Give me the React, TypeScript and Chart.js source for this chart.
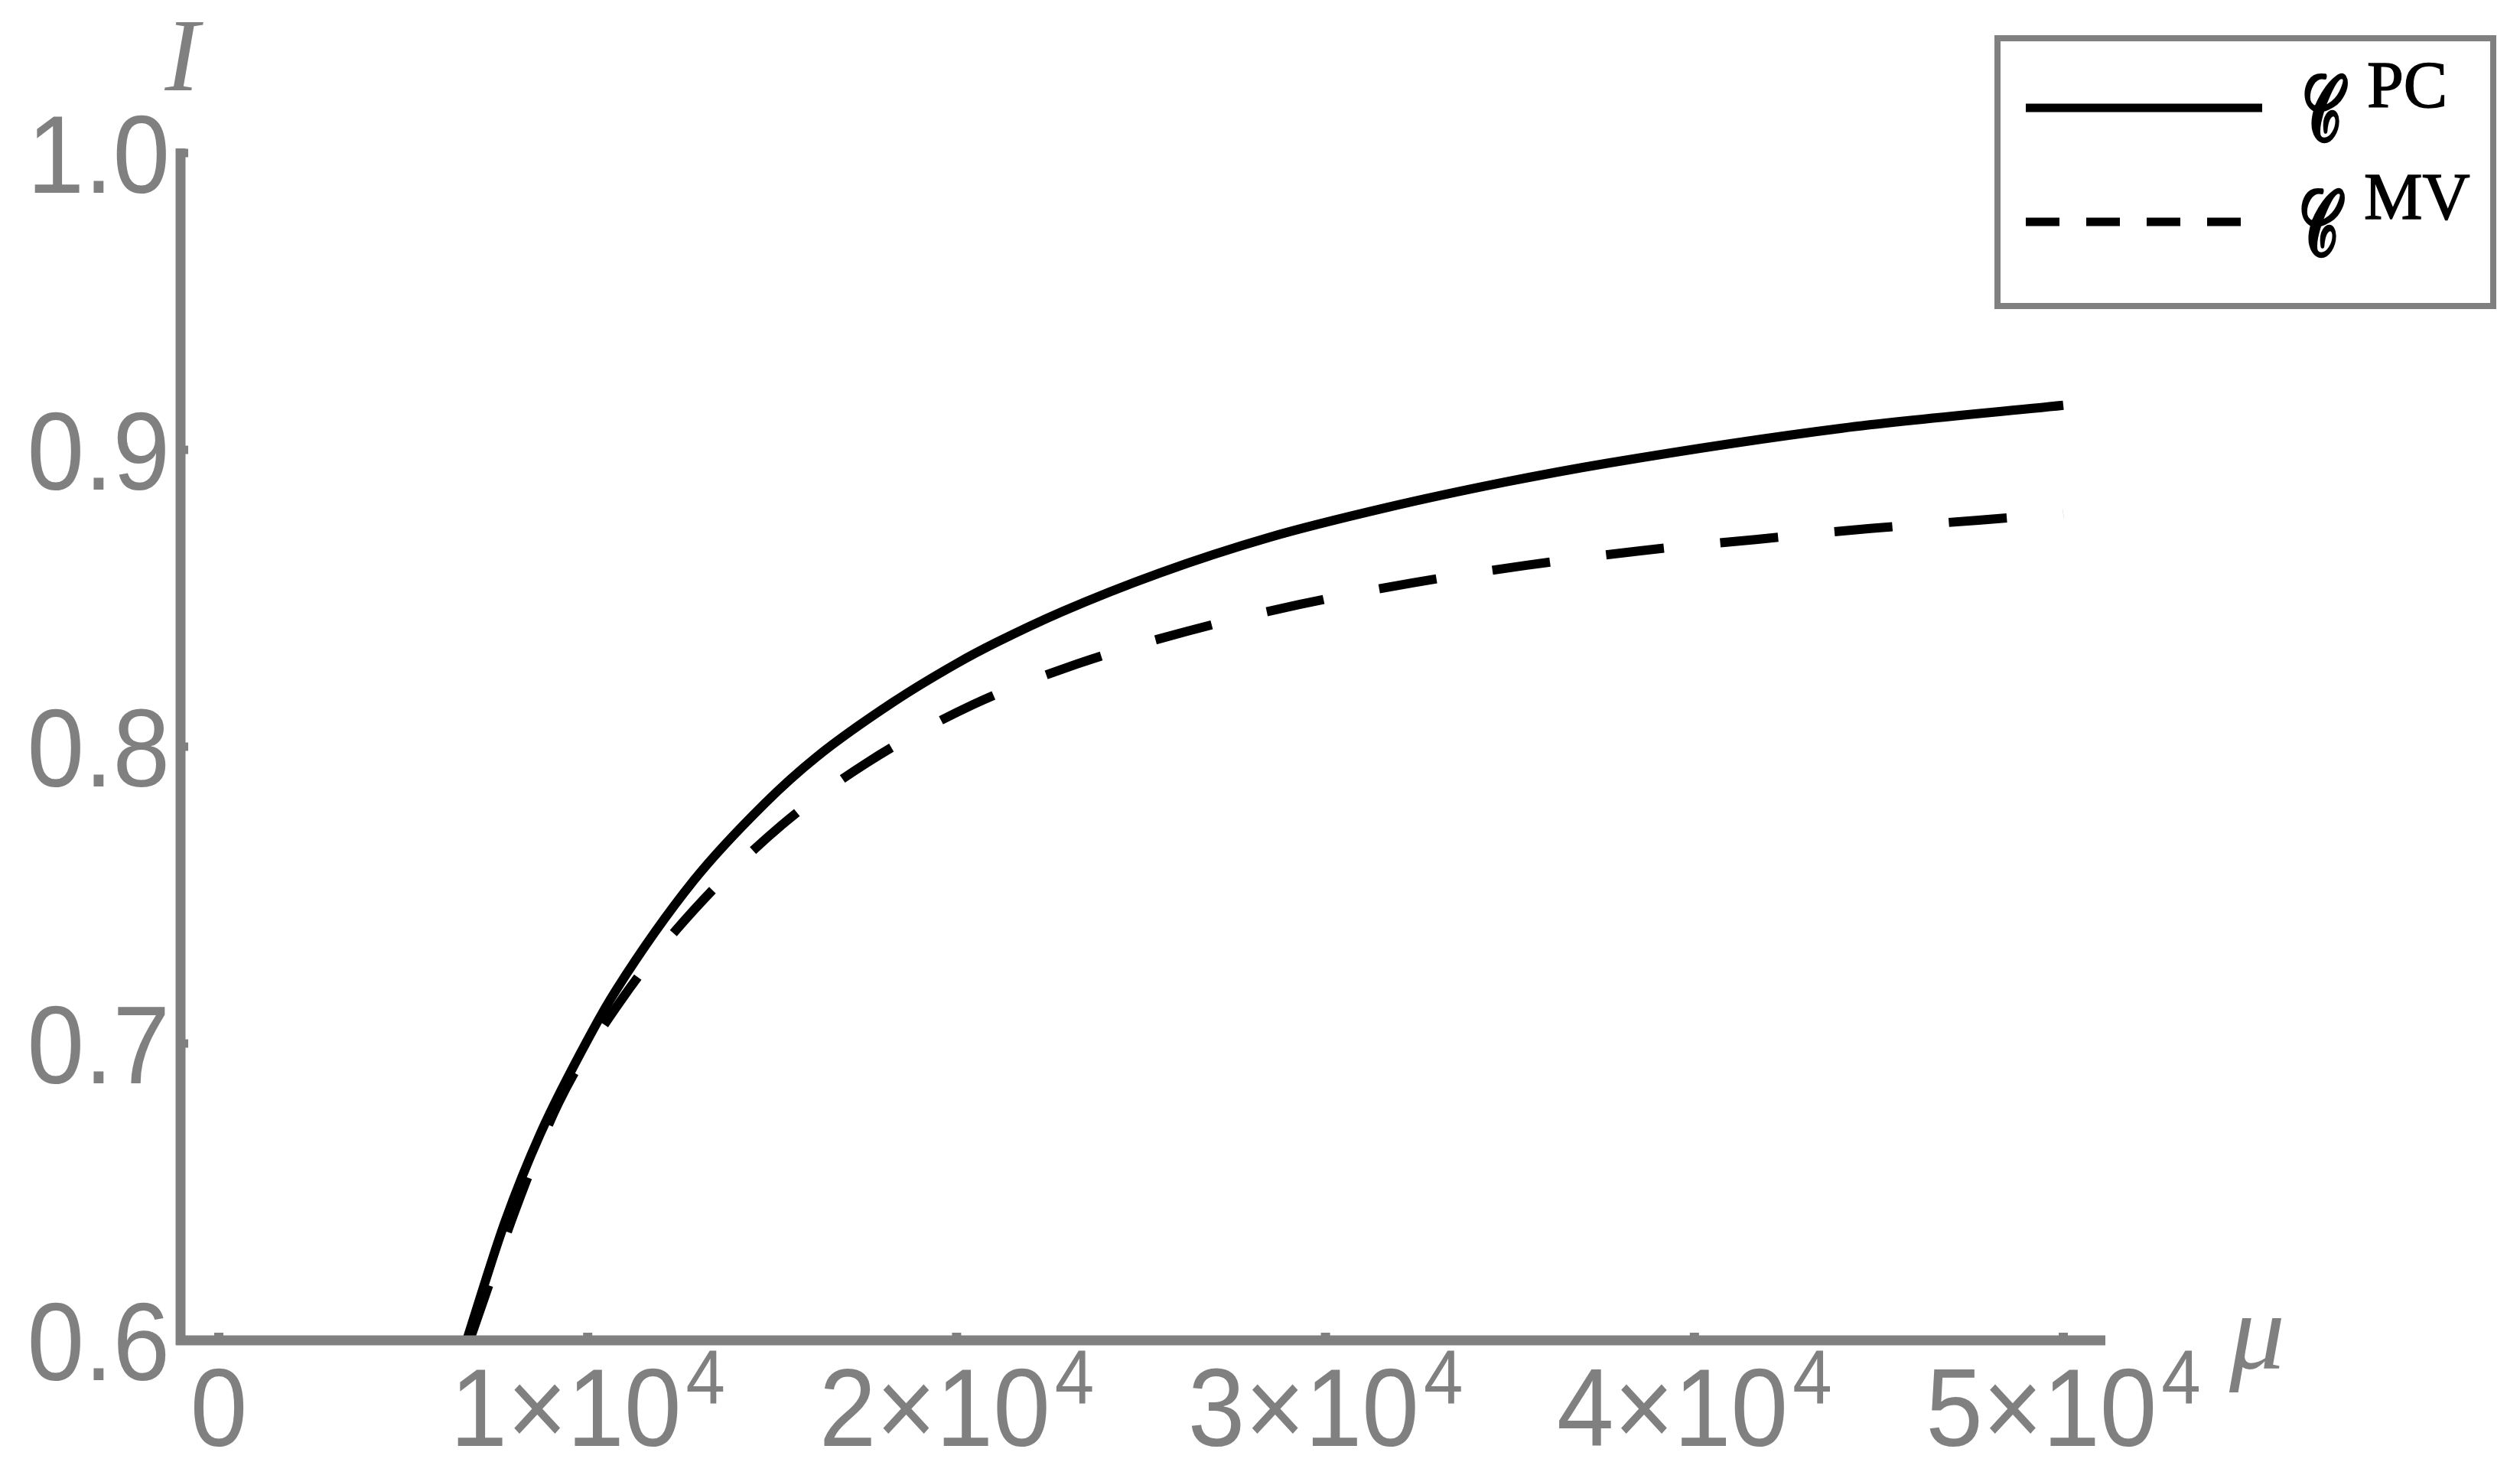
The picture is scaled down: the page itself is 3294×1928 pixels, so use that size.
import React, { useEffect, useRef } from "react";
import { Chart, registerables } from "chart.js";

Chart.register(...registerables);

const W = 3294;
const H = 1928;

// ---- data ----
const muPC = [6720, 7760, 8730, 10100, 10770, 12880, 14810, 16200, 18280, 20000, 21060, 22860, 25500, 28470, 31640, 34810, 37640, 44000, 50000];
const iPC = [0.6, 0.64, 0.67, 0.7036, 0.718, 0.755, 0.781, 0.7965, 0.815, 0.828, 0.835, 0.8455, 0.8585, 0.8705, 0.8805, 0.889, 0.8955, 0.9073, 0.915];

const muMV = [6800, 8130, 9210, 10930, 12880, 15270, 17570, 20450, 23250, 26220, 29290, 32360, 35450, 38530, 41660, 44770, 47700, 50000];
const iMV = [0.6, 0.647, 0.68, 0.715, 0.745, 0.7737, 0.7946, 0.8142, 0.8278, 0.8388, 0.8479, 0.8552, 0.8611, 0.866, 0.8698, 0.8735, 0.8763, 0.8785];

const seriesSup = ["PC", "MV"];
const seriesScript = "\u{1D49E}";

const xTickValues = [0, 10000, 20000, 30000, 40000, 50000];
const xTickMain = ["0", "1×10", "2×10", "3×10", "4×10", "5×10"];
const xTickExp = ["", "4", "4", "4", "4", "4"];
const yTickValues = [0.6, 0.7, 0.8, 0.9, 1.0];
const yTickLabels = ["0.6", "0.7", "0.8", "0.9", "1.0"];

const xTitle = "μ";
const yTitle = "I";

const X_MIN = -1037;
const X_MAX = 51140;
const Y_MIN = 0.6;
const Y_MAX = 1.0;

const GRAY = "#808080";
const SANS = '"Liberation Sans", Arial, sans-serif';
const SERIF = '"Liberation Serif", "Times New Roman", serif';

function drawCondensed(ctx: CanvasRenderingContext2D, text: string, x: number, y: number, align: CanvasTextAlign, sx: number) {
  ctx.save();
  ctx.translate(x, y);
  ctx.scale(sx, 1);
  ctx.textAlign = align;
  ctx.fillText(text, 0, 0);
  ctx.restore();
}

// draw a glyph so that its ink fits a given box (slightly emboldened)
function drawFitted(ctx: CanvasRenderingContext2D, text: string, x1: number, y1: number, x2: number, y2: number, bold: number) {
  ctx.save();
  ctx.textAlign = "left";
  ctx.textBaseline = "alphabetic";
  const m = ctx.measureText(text);
  const l = m.actualBoundingBoxLeft || 0;
  const r = m.actualBoundingBoxRight || m.width;
  const a = m.actualBoundingBoxAscent || 0;
  const d = m.actualBoundingBoxDescent || 0;
  const w = Math.max(1, l + r);
  const h = Math.max(1, a + d);
  const sx = (x2 - x1 - bold) / w;
  const sy = (y2 - y1 - bold) / h;
  ctx.translate(x1 + bold / 2 + l * sx, y1 + bold / 2 + a * sy);
  ctx.scale(sx, sy);
  ctx.fillText(text, 0, 0);
  ctx.lineWidth = bold / Math.sqrt(sx * sy);
  ctx.lineJoin = "round";
  ctx.strokeText(text, 0, 0);
  ctx.restore();
}

const decorPlugin = {
  id: "decor",
  afterDatasetsDraw(chart: any) {
    const ctx: CanvasRenderingContext2D = chart.ctx;
    const xs = chart.scales.x;
    const ys = chart.scales.y;
    const x0 = xs.getPixelForValue(X_MIN);
    const xEnd = xs.getPixelForValue(X_MAX);
    const y0 = ys.getPixelForValue(Y_MIN);
    const yTop = ys.getPixelForValue(Y_MAX);
    const SX = 0.925;

    ctx.save();
    ctx.fillStyle = GRAY;
    ctx.strokeStyle = GRAY;
    ctx.lineCap = "butt";

    // axes lines
    ctx.lineWidth = 13;
    ctx.beginPath();
    ctx.moveTo(x0, yTop - 6);
    ctx.lineTo(x0, y0 + 6);
    ctx.stroke();
    ctx.beginPath();
    ctx.moveTo(x0 - 6, y0);
    ctx.lineTo(xEnd, y0);
    ctx.stroke();

    // y ticks
    ctx.lineWidth = 11;
    yTickValues.forEach((v) => {
      const py = ys.getPixelForValue(v);
      ctx.beginPath();
      ctx.moveTo(x0 + 6, py);
      ctx.lineTo(x0 + 10, py);
      ctx.stroke();
    });
    // x ticks
    ctx.lineWidth = 12;
    xTickValues.forEach((v) => {
      const px = xs.getPixelForValue(v);
      ctx.beginPath();
      ctx.moveTo(px, y0 - 6);
      ctx.lineTo(px, y0 - 10);
      ctx.stroke();
    });

    // y tick labels
    ctx.font = `145px ${SANS}`;
    ctx.textBaseline = "alphabetic";
    yTickValues.forEach((v, i) => {
      const py = ys.getPixelForValue(v);
      drawCondensed(ctx, yTickLabels[i], x0 - 14, py + 52, "right", SX);
    });

    // x tick labels
    xTickValues.forEach((v, i) => {
      const px = xs.getPixelForValue(v);
      ctx.font = `145px ${SANS}`;
      const w1 = ctx.measureText(xTickMain[i]).width * SX;
      let w2 = 0;
      if (xTickExp[i]) {
        ctx.font = `100px ${SANS}`;
        w2 = ctx.measureText(xTickExp[i]).width * SX + 6;
      }
      const left = px - (w1 + w2) / 2;
      ctx.font = `145px ${SANS}`;
      drawCondensed(ctx, xTickMain[i], left, y0 + 138, "left", SX);
      if (xTickExp[i]) {
        ctx.font = `100px ${SANS}`;
        drawCondensed(ctx, xTickExp[i], left + w1 + 6, y0 + 83, "left", SX);
      }
    });

    // axis titles
    ctx.font = `italic 135px ${SERIF}`;
    ctx.textAlign = "center";
    ctx.fillText(yTitle, x0 + 2, yTop - 82);
    ctx.font = `italic 145px ${SERIF}`;
    ctx.textAlign = "left";
    ctx.fillText(xTitle, xEnd + 162, y0 + 37);

    // legend
    const lx = 2611;
    const ly = 50;
    ctx.lineWidth = 8;
    ctx.strokeStyle = GRAY;
    ctx.strokeRect(lx, ly, 648, 350);

    ctx.strokeStyle = "#000";
    ctx.lineWidth = 11;
    ctx.beginPath();
    ctx.moveTo(lx + 37, ly + 91);
    ctx.lineTo(lx + 346, ly + 91);
    ctx.stroke();
    ctx.setLineDash([44, 35]);
    ctx.beginPath();
    ctx.moveTo(lx + 37, ly + 240);
    ctx.lineTo(lx + 321, ly + 240);
    ctx.stroke();
    ctx.setLineDash([]);

    ctx.fillStyle = "#000";
    ctx.strokeStyle = "#000";
    ctx.textAlign = "left";
    const rows = [
      { bx: lx + 401, by: ly + 47, sy: ly + 90, sx: lx + 483 },
      { bx: lx + 397, by: ly + 197, sy: ly + 236, sx: lx + 479 },
    ];
    rows.forEach((r, i) => {
      ctx.font = `100px "DejaVu Serif", "DejaVu Sans", ${SERIF}`;
      drawFitted(ctx, seriesScript, r.bx, r.by, r.bx + 58, r.by + 90, 5);
      ctx.font = `86px ${SERIF}`;
      ctx.textAlign = "left";
      ctx.fillText(seriesSup[i], r.sx, r.sy);
      ctx.lineWidth = 1.5;
      ctx.strokeText(seriesSup[i], r.sx, r.sy);
    });

    ctx.restore();
  },
};

export default function App() {
  const ref = useRef<HTMLCanvasElement | null>(null);

  useEffect(() => {
    document.body.style.margin = "0";
    document.body.style.overflow = "hidden";
    const canvas = ref.current;
    if (!canvas) return;
    const chart = new Chart(canvas, {
      type: "line",
      data: {
        datasets: [
          {
            label: seriesSup[0],
            data: muPC.map((m, i) => ({ x: m, y: iPC[i] })),
            borderColor: "#000000",
            borderWidth: 12,
            pointRadius: 0,
            fill: false,
            cubicInterpolationMode: "monotone",
          },
          {
            label: seriesSup[1],
            data: muMV.map((m, i) => ({ x: m, y: iMV[i] })),
            borderColor: "#000000",
            borderWidth: 12,
            borderDash: [76, 74],
            borderCapStyle: "butt",
            pointRadius: 0,
            fill: false,
            cubicInterpolationMode: "monotone",
          },
        ],
      },
      options: {
        responsive: false,
        animation: false,
        events: [],
        layout: { padding: { left: 236, right: W - 2752, top: 200, bottom: H - 1752 } },
        scales: {
          x: { type: "linear", min: X_MIN, max: X_MAX, display: false },
          y: { type: "linear", min: Y_MIN, max: Y_MAX, display: false },
        },
        plugins: {
          legend: { display: false },
          tooltip: { enabled: false },
        },
      },
      plugins: [decorPlugin],
    } as any);
    return () => chart.destroy();
  }, []);

  return (
    <div style={{ width: W, height: H, background: "#fff" }}>
      <canvas ref={ref} width={W} height={H} style={{ width: W, height: H, display: "block" }} />
    </div>
  );
}
